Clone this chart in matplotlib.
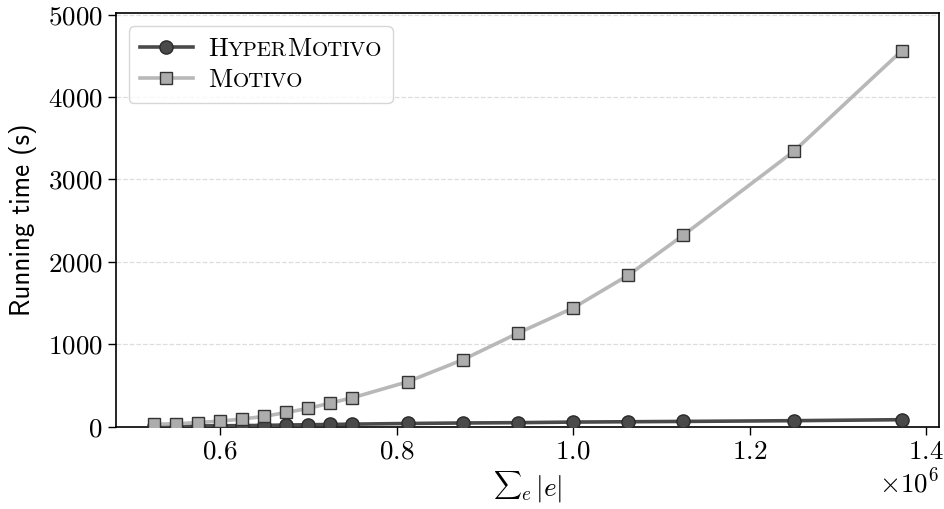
import matplotlib
matplotlib.use("Agg")
import matplotlib.pyplot as plt
from matplotlib.offsetbox import TextArea, HPacker
from matplotlib.ticker import ScalarFormatter

plt.rcParams['font.family'] = ['cmr10', 'DejaVu Serif']
plt.rcParams['mathtext.fontset'] = 'cm'
plt.rcParams['axes.formatter.use_mathtext'] = True
plt.rcParams['axes.unicode_minus'] = False

edges = [0.525e6, 0.55e6, 0.575e6, 0.6e6, 0.625e6, 0.65e6, 0.675e6, 0.7e6, 0.725e6,
         0.75e6, 0.8125e6, 0.875e6, 0.9375e6, 1.0e6, 1.0625e6, 1.125e6, 1.25e6, 1.3725e6]
motivo = [30, 35, 50, 68, 93, 125, 173, 222, 287, 351, 545, 812, 1135, 1440, 1838,
          2325, 3340, 4563]
hypermotivo = [5, 7, 9, 11, 13, 16, 20, 24, 27, 31, 39, 45, 49, 56, 60, 64, 73, 85]
yticks = [0, 1000, 2000, 3000, 4000, 5000]
xticks = [0.6e6, 0.8e6, 1.0e6, 1.2e6, 1.4e6]

fig = plt.figure(figsize=(9.44, 5.09), dpi=100)
ax = fig.add_axes([0.1229, 0.1617, 0.8714, 0.8122])

ax.plot(edges, hypermotivo, color='#4a4a4a', lw=2.6, marker='o', ms=9.5,
        mfc='#4a4a4a', mec='#2a2a2a', mew=1.0, label='HyperMotivo', zorder=3)
ax.plot(edges, motivo, color='#b8b8b8', lw=2.6, marker='s', ms=8.5,
        mfc='#adadad', mec='#333333', mew=1.0, label='Motivo', zorder=4)

ax.set_xlim(0.4822e6, 1.4142e6)
ax.set_ylim(0, 5017)
ax.set_yticks(yticks)
ax.set_xticks(xticks)
fmt = ScalarFormatter(useMathText=True)
fmt.set_powerlimits((0, 0))
ax.xaxis.set_major_formatter(fmt)
ax.tick_params(labelsize=19.5, length=6, width=1.0, direction='out')
ax.xaxis.get_offset_text().set_fontsize(19.5)
ax.yaxis.grid(True, ls='--', color='#dddddd', lw=0.9)
ax.set_axisbelow(True)
for s in ax.spines.values():
    s.set_linewidth(1.2)
    s.set_color('black')

ax.set_ylabel('Running time (s)', family='cmss10', fontsize=19.5, labelpad=8)

# x label: text-style sum followed by subscript and |e|
ax.annotate(r'$\sum$', xy=(0.5, 0), xycoords='axes fraction', xytext=(-25, -47),
            textcoords='offset points', fontsize=14, ha='left', va='baseline',
            annotation_clip=False)
ax.annotate(r'${}_e\,|e|$', xy=(0.5, 0), xycoords='axes fraction', xytext=(-5.0, -49.5),
            textcoords='offset points', fontsize=19.5, ha='left', va='baseline',
            annotation_clip=False)

leg = ax.legend(loc='upper left', fontsize=19, frameon=True, fancybox=True,
                edgecolor='#cccccc', framealpha=0.8, borderaxespad=0.5,
                handlelength=2.0, labelspacing=0.3, handletextpad=0.6)

# small-caps labels built from two font sizes
big, small = 19, 15
def sc(parts):
    kids = []
    for txt, is_big in parts:
        kids.append(TextArea(txt, textprops=dict(fontsize=big if is_big else small,
                                                 family='cmr10', color='black')))
    return HPacker(children=kids, align='baseline', pad=0, sep=0)

labels_sc = [
    [('H', True), ('YPER', False), ('M', True), ('OTIVO', False)],
    [('M', True), ('OTIVO', False)],
]
rows = []
for col in leg._legend_handle_box.get_children():
    rows.extend(col.get_children())
for row, parts in zip(rows, labels_sc):
    kids = row.get_children()
    box = sc(parts)
    box.set_figure(fig)
    kids[1] = box

fig.savefig('out.png', dpi=100)
